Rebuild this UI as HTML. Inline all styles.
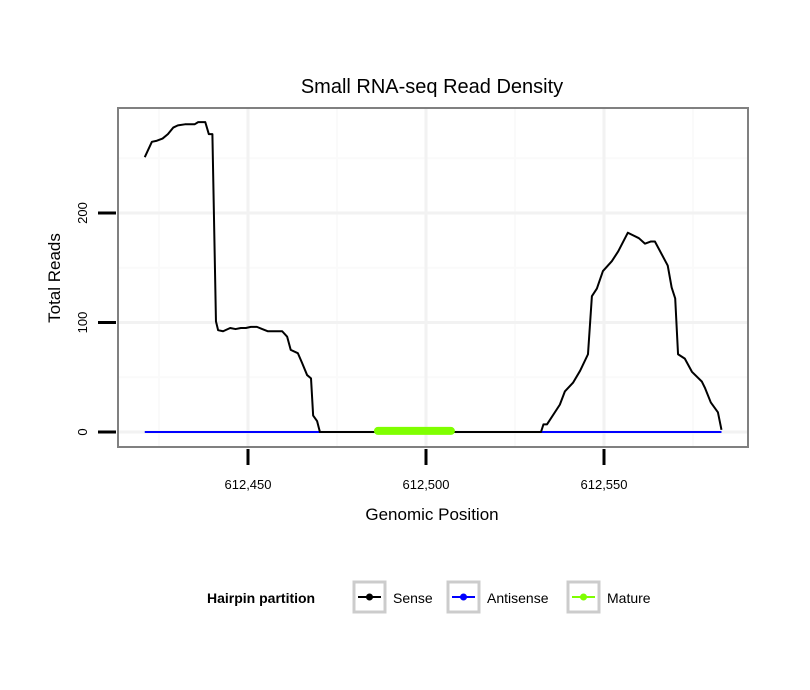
<!DOCTYPE html>
<html><head><meta charset="utf-8"><style>
body{margin:0;background:#fff;}
svg{display:block;font-family:"Liberation Sans",Arial,sans-serif;}
</style></head><body>
<svg id="chart" width="810" height="690" viewBox="0 0 810 690">
<text x="432" y="93" font-size="20" text-anchor="middle">Small RNA-seq Read Density</text>
<g id="grid"></g>
<g id="marks"></g>
<rect x="118" y="108" width="630" height="339" fill="none" stroke="#808080" stroke-width="2"/>
<g id="axes"></g>
<text x="432" y="520" font-size="17" text-anchor="middle">Genomic Position</text>
<text transform="translate(60,278) rotate(-90)" font-size="17" text-anchor="middle">Total Reads</text>
<g>
<text x="207" y="603" font-size="14" font-weight="bold">Hairpin partition</text>
<g>
<rect x="354" y="582" width="31" height="30" fill="#fff" stroke="#cccccc" stroke-width="3"/>
<line x1="358" y1="597" x2="381" y2="597" stroke="#000" stroke-width="2"/><circle cx="369.5" cy="597" r="3.5" fill="#000"/>
<text x="393" y="603" font-size="14">Sense</text></g>
<g>
<rect x="448" y="582" width="31" height="30" fill="#fff" stroke="#cccccc" stroke-width="3"/>
<line x1="452" y1="597" x2="475" y2="597" stroke="#0000ff" stroke-width="2"/><circle cx="463.5" cy="597" r="3.5" fill="#0000ff"/>
<text x="487" y="603" font-size="14">Antisense</text></g>
<g>
<rect x="568" y="582" width="31" height="30" fill="#fff" stroke="#cccccc" stroke-width="3"/>
<line x1="572" y1="597" x2="595" y2="597" stroke="#7fff00" stroke-width="2"/><circle cx="583.5" cy="597" r="3.5" fill="#7fff00"/>
<text x="607" y="603" font-size="14">Mature</text></g>
</g>
</svg>
<script>
const sensePos = [612421,612423,612424.4,612426,612427.5,612429,612430.3,612432.3,612435,612436,612438,612439,612440,612441,612441.6,612443,612445,612446.5,612448,612449.4,612450.8,612452.5,612454,612455.6,612459.6,612461,612462,612464,612465.2,612466.6,612467.7,612468.3,612469.4,612470.2,612532.3,612533,612534,612537.6,612539,612541.3,612543.3,612545.5,612546.6,612548,612549.7,612552.2,612554,612556.7,612559.8,612561.5,612563.2,612564.3,612567.9,612569,612570,612570.8,612572.7,612574.7,612577.5,612578.4,612580,612582,612583];
const senseReads = [251,265,266,268,272,278,280,281,281,283,283,272,272,101,93,92,95,94,95,95,96,96,94,92,92,87,75,72,63,52,49,15,10,0,0,7,7,25,37,45,56,71,124,131,147,156,165,182,177,172,174,174,152,132,122,71,67,55,46,40,27,18,2];
const antisenseRange = [612421,612583];
const antisenseReads = [0,0];
const matureRange = [612486.5,612507];
const matureReads = [1,1];
const xTicks = [612450,612500,612550];
const xTickLabels = ["612,450","612,500","612,550"];
const yTicks = [0,100,200];
const yTickLabels = ["0","100","200"];

const NS='http://www.w3.org/2000/svg';
const xs = v => 248 + (v-612450)*(604-248)/100;
const ys = v => 432 - v*(432-213)/200;
function mk(tag, attrs, parent){const e=document.createElementNS(NS,tag);for(const k in attrs)e.setAttribute(k,attrs[k]);parent.appendChild(e);return e;}
const grid=document.getElementById('grid'), marks=document.getElementById('marks'), axes=document.getElementById('axes');
mk('rect',{x:118,y:108,width:630,height:339,fill:'#fff'},grid);
const xMinor=[612425,612475,612525,612575], yMinor=[50,150,250];
xMinor.forEach(v=>{const l=mk('line',{x1:xs(v),x2:xs(v),y1:108,y2:447,stroke:'#fafafa','stroke-width':2},grid);});
yMinor.forEach(v=>{const l=mk('line',{x1:118,x2:748,y1:ys(v),y2:ys(v),stroke:'#fafafa','stroke-width':2},grid);});
xTicks.forEach((v,i)=>{
 const l=mk('line',{x1:xs(v),x2:xs(v),y1:108,y2:447,stroke:'#f2f2f2','stroke-width':3},grid);
 
 const t=mk('line',{x1:xs(v),x2:xs(v),y1:449,y2:465,stroke:'#000','stroke-width':3},axes);
 
 const tx=mk('text',{x:xs(v),y:489,'font-size':13,'text-anchor':'middle'},axes);tx.textContent=xTickLabels[i];
 
});
yTicks.forEach((v,i)=>{
 const l=mk('line',{x1:118,x2:748,y1:ys(v),y2:ys(v),stroke:'#f2f2f2','stroke-width':3},grid);
 
 const t=mk('line',{x1:98,x2:116,y1:ys(v),y2:ys(v),stroke:'#000','stroke-width':3},axes);
 
 const tx=mk('text',{transform:`translate(87,${ys(v)}) rotate(-90)`,'font-size':13,'text-anchor':'middle'},axes);tx.textContent=yTickLabels[i];
 
});
const anti=mk('polyline',{points:antisenseRange.map((p,i)=>xs(p)+','+ys(antisenseReads[i])).join(' '),fill:'none',stroke:'#0000ff','stroke-width':2},marks);

const sense=mk('polyline',{points:sensePos.map((p,i)=>xs(p)+','+ys(senseReads[i])).join(' '),fill:'none',stroke:'#000','stroke-width':2,'stroke-linejoin':'round'},marks);

const mat=mk('polyline',{points:matureRange.map((p,i)=>xs(p)+','+ys(matureReads[i])).join(' '),fill:'none',stroke:'#7fff00','stroke-width':8,'stroke-linecap':'round'},marks);

</script>
</body></html>
